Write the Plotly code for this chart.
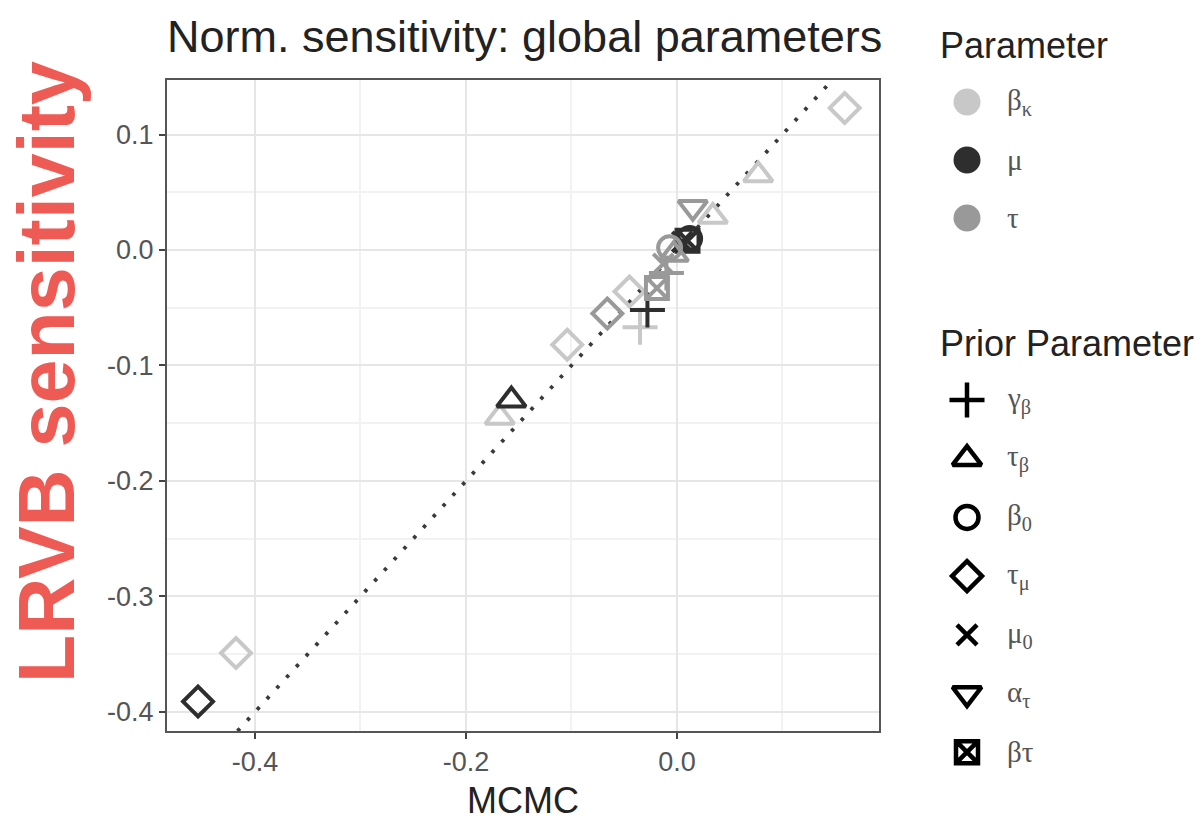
import plotly.graph_objects as go

# ---- data -------------------------------------------------------------
param_labels = ["β<sub>κ</sub>", "μ", "τ"]
param_colors = ["#C8C8C8", "#2E2E2E", "#999999"]

prior_labels = ["γ<sub>β</sub>", "τ<sub>β</sub>", "β<sub>0</sub>", "τ<sub>μ</sub>",
                "μ<sub>0</sub>", "α<sub>τ</sub>", "βτ"]
prior_symbols = ["cross-thin", "triangle-up-open", "circle-open", "diamond-open",
                 "x-thin", "triangle-down-open", "square-x-open"]
prior_sizes = [25, 25, 23, 23, 20, 25, 22]

# normalised sensitivities, one entry per (parameter, prior) point
mcmc = [0.159, 0.077, 0.034, -0.045, -0.104, -0.168, -0.418, -0.035,
        -0.454, -0.157, -0.028, 0.012, 0.005, 0.010,
        0.015, -0.019, -0.007, -0.013, -0.066, -0.010, -0.003]
lrvb = [0.123, 0.065, 0.029, -0.036, -0.082, -0.145, -0.349, -0.067,
        -0.391, -0.130, -0.052, 0.010, 0.007, 0.008,
        0.037, -0.033, 0.002, -0.012, -0.055, -0.020, -0.004]
param_idx = [0, 0, 0, 0, 0, 0, 0, 0,
             1, 1, 1, 1, 1, 1,
             2, 2, 2, 2, 2, 2, 2]
prior_idx = [3, 1, 1, 3, 3, 1, 3, 0,
             3, 1, 0, 2, 4, 6,
             5, 6, 2, 4, 3, 0, 1]

x_ticks = [-0.4, -0.2, 0.0]
x_ticklabels = ["-0.4", "-0.2", "0.0"]
y_ticks = [0.1, 0.0, -0.1, -0.2, -0.3, -0.4]
y_ticklabels = ["0.1", "0.0", "-0.1", "-0.2", "-0.3", "-0.4"]
identity_ends = [-0.5, 0.2]

W, H = 1203, 820
SANS = "Liberation Sans, Arial, sans-serif"
SERIF = "Liberation Serif, DejaVu Serif, serif"

fig = go.Figure()

# y = x reference line
fig.add_trace(go.Scatter(
    x=identity_ends, y=identity_ends, mode="lines",
    line=dict(color="#3A3A3A", width=3.8, dash="3.5px,11px"),
    hoverinfo="skip", showlegend=False))

# points, one trace per parameter so the drawing order follows the groups
for p in range(len(param_labels)):
    rows = [i for i in range(len(mcmc)) if param_idx[i] == p]
    fig.add_trace(go.Scatter(
        x=[mcmc[i] for i in rows], y=[lrvb[i] for i in rows], mode="markers",
        marker=dict(symbol=[prior_symbols[prior_idx[i]] for i in rows],
                    size=[prior_sizes[prior_idx[i]] for i in rows],
                    color=param_colors[p], opacity=1,
                    line=dict(color=param_colors[p], width=4)),
        showlegend=False, cliponaxis=False))

# ---- hand-drawn legends in a pixel-scaled overlay axis --------------------
LEG_X, TXT_X = 967, 1005
param_rows = [102 + 58 * i for i in range(len(param_labels))]
prior_rows = [400 + 58.7 * i for i in range(len(prior_labels))]

fig.add_trace(go.Scatter(
    x=[LEG_X] * len(param_rows), y=param_rows, mode="markers",
    xaxis="x2", yaxis="y2",
    marker=dict(symbol="circle", size=27, color=param_colors, opacity=1,
                line=dict(width=0)),
    showlegend=False, hoverinfo="skip", cliponaxis=False))
fig.add_trace(go.Scatter(
    x=[LEG_X] * len(prior_rows), y=prior_rows, mode="markers",
    xaxis="x2", yaxis="y2",
    marker=dict(symbol=prior_symbols, size=prior_sizes, color="#000000", opacity=1,
                line=dict(color="#000000", width=4.5)),
    showlegend=False, hoverinfo="skip", cliponaxis=False))

annotations = []
for lab, yy in zip(param_labels, param_rows):
    annotations.append(dict(x=TXT_X, y=yy, xref="x2", yref="y2", text=lab,
                            showarrow=False, xanchor="left", yanchor="middle",
                            font=dict(family=SERIF, size=29, color="#555555")))
for lab, yy in zip(prior_labels, prior_rows):
    annotations.append(dict(x=TXT_X, y=yy, xref="x2", yref="y2", text=lab,
                            showarrow=False, xanchor="left", yanchor="middle",
                            font=dict(family=SERIF, size=29, color="#555555")))
annotations.append(dict(x=938, y=45, xref="x2", yref="y2", text="Parameter",
                        showarrow=False, xanchor="left", yanchor="middle",
                        font=dict(family=SANS, size=36, color="#222222")))
annotations.append(dict(x=938, y=343, xref="x2", yref="y2", text="Prior Parameter",
                        showarrow=False, xanchor="left", yanchor="middle",
                        font=dict(family=SANS, size=36, color="#222222")))

# title and axis titles
annotations.append(dict(x=524 / W, y=1 - 36 / H, xref="paper", yref="paper",
                        text="Norm. sensitivity: global parameters", showarrow=False,
                        xanchor="center", yanchor="middle",
                        font=dict(family=SANS, size=45, color="#222222")))
annotations.append(dict(x=523 / W, y=1 - 800 / H, xref="paper", yref="paper",
                        text="MCMC", showarrow=False, xanchor="center", yanchor="middle",
                        font=dict(family=SANS, size=36, color="#222222")))
annotations.append(dict(x=47 / W, y=1 - 372 / H, xref="paper", yref="paper",
                        text="<b>LRVB sensitivity</b>", textangle=-90, showarrow=False,
                        xanchor="center", yanchor="middle",
                        font=dict(family=SANS, size=79, color="#EE5B55")))

axis_common = dict(
    showline=True, mirror=True, linecolor="#555555", linewidth=2,
    ticks="outside", ticklen=6, tickwidth=2, tickcolor="#444444",
    tickfont=dict(family=SANS, size=27, color="#555555"),
    showgrid=True, gridcolor="#E6E6E6", gridwidth=2,
    zeroline=False)

fig.update_layout(
    width=W, height=H,
    margin=dict(l=0, r=0, t=0, b=0),
    paper_bgcolor="white", plot_bgcolor="white",
    xaxis=dict(domain=[167 / W, 879 / W], range=[-0.4834, 0.1915],
               tickmode="array", tickvals=x_ticks, ticktext=x_ticklabels,
               minor=dict(tickmode="linear", tick0=0, dtick=0.1, showgrid=True,
                          gridcolor="#F2F2F2", gridwidth=1.5, ticks=""),
               **axis_common),
    yaxis=dict(domain=[1 - 731 / H, 1 - 80 / H], range=[-0.4165, 0.1472],
               tickmode="array", tickvals=y_ticks, ticktext=y_ticklabels,
               minor=dict(tickmode="linear", tick0=0, dtick=0.05, showgrid=True,
                          gridcolor="#F2F2F2", gridwidth=1.5, ticks=""),
               **axis_common),
    xaxis2=dict(domain=[930 / W, 1], range=[930, W], visible=False, fixedrange=True),
    yaxis2=dict(domain=[0, 1], range=[H, 0], visible=False, fixedrange=True,
                anchor="x2"),
    annotations=annotations,
    showlegend=False,
)

fig.write_html("out.html")
